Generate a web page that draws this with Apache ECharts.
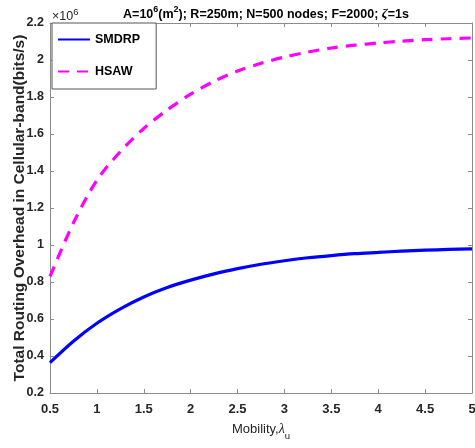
<!DOCTYPE html>
<html><head><meta charset="utf-8">
<script src="https://cdn.jsdelivr.net/npm/echarts@6/dist/echarts.min.js"></script>
<style>html,body{margin:0;padding:0;background:#fff}#c{width:475px;height:448px}</style>
</head><body><div id="c"></div>
<script>
const xValues = [0.5,0.75,1,1.25,1.5,1.75,2,2.25,2.5,2.75,3,3.25,3.5,3.75,4,4.25,4.5,4.75,5];
const smdrp = [0.364,0.48,0.577,0.655,0.719,0.770,0.81,0.844,0.872,0.896,0.915,0.931,0.943,0.953,0.960,0.967,0.972,0.976,0.979];
const hsaw  = [0.83,1.12,1.35,1.505,1.63,1.73,1.815,1.885,1.94,1.982,2.016,2.043,2.065,2.08,2.092,2.102,2.11,2.115,2.119];
const xTicks = [0.5,1,1.5,2,2.5,3,3.5,4,4.5,5];
const yTicks = [0.2,0.4,0.6,0.8,1,1.2,1.4,1.6,1.8,2,2.2];
const seriesNames = ['SMDRP','HSAW'];

const chart = echarts.init(document.getElementById('c'));
const FONT = '"Liberation Sans", Arial, sans-serif';
const axisCol = '#8c8c8c';
const lblCol = '#262626';
const pair = a => xValues.map((x,i)=>[x,a[i]]);
const baseX = {type:'value',min:0.5,max:5,interval:0.5,
  axisLine:{show:true,onZero:false,lineStyle:{color:axisCol,width:1}},
  axisTick:{show:true,inside:true,length:4,lineStyle:{color:axisCol}},
  splitLine:{show:false}};
const baseY = {type:'value',min:0.2,max:2.2,interval:0.2,
  axisLine:{show:true,onZero:false,lineStyle:{color:axisCol,width:1}},
  axisTick:{show:true,inside:true,length:4,lineStyle:{color:axisCol}},
  splitLine:{show:false}};
chart.setOption({
  animation:false,
  backgroundColor:'#fff',
  title:{
    text:'{n|A=10}{s|6}{n|(m}{s|2}{n|); R=250m; N=500 nodes; F=2000; }{g|ζ}{n|=1s}',
    left:261, textAlign:'center', top:0,
    textStyle:{rich:{
      n:{fontFamily:FONT,fontSize:12.5,fontWeight:'bold',color:'#000',verticalAlign:'bottom',lineHeight:16},
      s:{fontFamily:FONT,fontSize:9,fontWeight:'bold',color:'#000',verticalAlign:'top',lineHeight:16,padding:[0,0,6,0]},
      g:{fontFamily:'"Liberation Serif", serif',fontStyle:'italic',fontSize:13.5,color:'#000',verticalAlign:'bottom',lineHeight:16}
    }}
  },
  graphic:[{type:'text',left:52,top:7,style:{
    text:'{a|×10}{b|6}',
    rich:{a:{fontFamily:FONT,fontSize:12.5,fill:lblCol,verticalAlign:'bottom',lineHeight:16},
          b:{fontFamily:FONT,fontSize:9.5,fill:lblCol,verticalAlign:'top',lineHeight:16,padding:[0,0,6,0]}}}}],
  grid:{left:50,right:3,top:23,bottom:55,containLabel:false,outerBoundsMode:'none'},
  legend:{
    orient:'vertical', left:52, top:23,
    data:seriesNames,
    itemWidth:32, itemHeight:10, itemGap:19,
    padding:[10,16,11,5],
    borderColor:'#555', borderWidth:1, backgroundColor:'#fff',
    itemStyle:{opacity:0},
    textStyle:{fontFamily:FONT,fontSize:12.5,fontWeight:'bold',color:'#000'}
  },
  xAxis:[
    Object.assign({}, baseX, {position:'bottom',
      name:'{n|Mobility,}{g|λ}{u|u}', nameLocation:'middle', nameGap:27, nameMoveOverlap:false,
      nameTextStyle:{rich:{
        n:{fontFamily:FONT,fontSize:13,color:lblCol,verticalAlign:'bottom',lineHeight:16},
        g:{fontFamily:'"Liberation Serif", serif',fontStyle:'italic',fontSize:14,color:lblCol,verticalAlign:'bottom',lineHeight:16},
        u:{fontFamily:FONT,fontSize:9.5,color:lblCol,verticalAlign:'bottom',lineHeight:16,padding:[0,0,-5,0]}}},
      axisLabel:{show:true,margin:10,fontFamily:FONT,fontSize:13,fontWeight:'bold',color:lblCol,
        formatter:v=>xTicks.includes(+v.toFixed(2))?String(+v.toFixed(2)):''}}),
    Object.assign({}, baseX, {position:'top',axisLabel:{show:false}})
  ],
  yAxis:[
    Object.assign({}, baseY, {position:'left',
      name:'Total Routing Overhead in Cellular-band(bits/s)', nameLocation:'middle', nameGap:22, nameMoveOverlap:false,
      nameTextStyle:{fontFamily:FONT,fontSize:15.5,fontWeight:'bold',color:lblCol},
      axisLabel:{show:true,margin:6,fontFamily:FONT,fontSize:12.5,fontWeight:'bold',color:lblCol,
        formatter:v=>{const r=+v.toFixed(2);return yTicks.includes(r)?String(r):'';}}}),
    Object.assign({}, baseY, {position:'right',axisLabel:{show:false}})
  ],
  series:[
    {name:'SMDRP',type:'line',data:pair(smdrp),smooth:0.3,showSymbol:false,symbol:'none',
     lineStyle:{color:'#0000ff',width:3.2},itemStyle:{color:'#0000ff'}},
    {name:'HSAW',type:'line',data:pair(hsaw),smooth:0.3,showSymbol:false,symbol:'none',
     lineStyle:{color:'#ff00ff',width:3.2,type:[11,8]},itemStyle:{color:'#ff00ff'}}
  ]
});
</script></body></html>
